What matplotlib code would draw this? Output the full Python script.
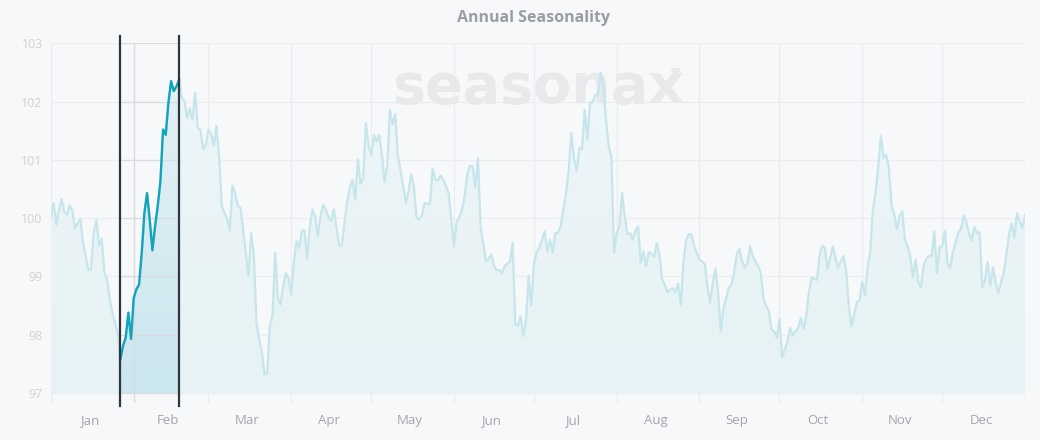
import numpy as np
import matplotlib
matplotlib.use("Agg")
import matplotlib.pyplot as plt
from matplotlib.colors import to_rgb

# daily seasonal index, one list per month (day 0 = 1 Jan, last point = 31 Dec close)
JAN = [100.00, 100.26, 99.89, 100.15, 100.33, 100.10, 100.06, 100.22, 100.12, 99.83,
       99.91, 99.99, 99.58, 99.35, 99.11, 99.13, 99.75, 99.97, 99.53, 99.65,
       99.07, 98.95, 98.61, 98.38, 98.21, 98.03, 97.58, 97.81, 97.95, 98.38, 97.93]
FEB = [98.63, 98.78, 98.86, 99.40, 100.09, 100.43, 99.97, 99.45, 99.86, 100.21,
       100.63, 101.52, 101.43, 101.98, 102.35, 102.18, 102.26, 102.37, 102.06, 102.01,
       101.72, 101.89, 101.69, 102.15, 101.55, 101.51, 101.19, 101.25]
MAR = [101.52, 101.45, 101.24, 101.58, 101.06, 100.21, 100.09, 99.99, 99.79, 100.56,
       100.43, 100.21, 100.18, 99.81, 99.41, 99.01, 99.74, 99.38, 98.21, 97.92,
       97.72, 97.32, 97.35, 98.15, 98.33, 99.41, 98.63, 98.52, 98.83, 99.06, 98.97]
APR = [98.69, 99.23, 99.61, 99.49, 99.78, 99.79, 99.30, 99.86, 100.15, 100.03,
       99.69, 100.03, 100.23, 100.15, 100.01, 99.95, 100.15, 99.83, 99.52, 99.54,
       99.92, 100.29, 100.52, 100.66, 100.32, 101.01, 100.59, 100.69, 101.63, 101.25]
MAY = [101.08, 101.43, 101.32, 101.43, 101.09, 100.63, 100.89, 101.86, 101.61, 101.78,
       101.06, 100.81, 100.55, 100.26, 100.46, 100.75, 100.55, 100.01, 99.98, 100.05,
       100.26, 100.25, 100.24, 100.85, 100.66, 100.65, 100.73, 100.66, 100.55, 100.43, 99.98]
JUN = [99.52, 99.93, 100.01, 100.15, 100.38, 100.75, 100.90, 100.89, 100.52, 101.03,
       99.86, 99.55, 99.26, 99.30, 99.38, 99.18, 99.11, 99.11, 99.05, 99.18,
       99.22, 99.26, 99.58, 98.18, 98.16, 98.32, 97.98, 98.26, 99.02, 98.50]
JUL = [99.22, 99.42, 99.49, 99.63, 99.78, 99.43, 99.63, 99.41, 99.75, 99.75,
       99.86, 100.15, 100.43, 100.83, 101.46, 101.01, 100.81, 101.21, 101.18, 101.86,
       101.35, 101.98, 101.99, 102.12, 102.12, 102.50, 102.26, 101.69, 101.23, 101.06, 99.41]
AUG = [99.75, 99.86, 100.43, 100.03, 99.72, 99.74, 99.63, 99.78, 99.86, 99.23,
       99.43, 99.18, 99.42, 99.39, 99.34, 99.57, 99.38, 98.95, 98.86, 98.73,
       98.77, 98.80, 98.73, 98.88, 98.52, 99.23, 99.62, 99.73, 99.72, 99.52, 99.40]
SEP = [99.29, 99.26, 99.21, 98.83, 98.55, 98.89, 99.13, 98.72, 98.06, 98.46,
       98.63, 98.81, 98.86, 99.06, 99.38, 99.47, 99.26, 99.15, 99.23, 99.52,
       99.35, 99.26, 99.18, 99.06, 98.63, 98.49, 98.41, 98.09, 98.06, 97.95]
OCT = [98.27, 97.61, 97.75, 97.89, 98.12, 97.99, 98.06, 98.12, 98.29, 98.09,
       98.32, 98.72, 98.98, 98.96, 98.94, 99.35, 99.53, 99.49, 99.13, 99.32,
       99.52, 99.30, 99.15, 99.26, 99.35, 99.09, 98.49, 98.15, 98.35, 98.56, 98.59]
NOV = [98.91, 98.68, 99.15, 99.41, 100.15, 100.43, 100.89, 101.41, 101.03, 101.09,
       100.86, 100.21, 100.06, 99.81, 100.03, 100.12, 99.63, 99.52, 99.35, 98.98,
       99.29, 98.90, 98.81, 99.18, 99.30, 99.35, 99.35, 99.78, 99.06, 99.51]
DEC = [99.52, 99.78, 99.21, 99.15, 99.42, 99.58, 99.75, 99.82, 100.05, 99.94,
       99.75, 99.61, 99.85, 99.74, 99.76, 98.81, 98.94, 99.25, 98.85, 99.15,
       98.90, 98.72, 98.89, 99.06, 99.36, 99.72, 99.91, 99.66, 100.09, 99.95,
       99.83, 100.05]

MONTHS = ["Jan", "Feb", "Mar", "Apr", "May", "Jun",
          "Jul", "Aug", "Sep", "Oct", "Nov", "Dec"]
MONTH_DAYS = [31, 28, 31, 30, 31, 30, 31, 31, 30, 31, 30, 31]
HILITE_START, HILITE_END = 26, 48   # day index of the marked window
YTICKS = [97, 98, 99, 100, 101, 102, 103]

BG = "#f7f8fa"
LIGHT = "#c6e6ec"
TEAL = "#12a4bb"
DARK = "#2e3640"
MARK = "#e8e9eb"

values = np.array(JAN + FEB + MAR + APR + MAY + JUN + JUL + AUG + SEP + OCT + NOV + DEC)
days = np.arange(len(values))
starts = np.concatenate([[0], np.cumsum(MONTH_DAYS)])
mids = starts[:-1] + np.array(MONTH_DAYS) / 2 - 1

Y0 = 97.0


def gradient_fill(ax, x, y, top, bot, z):
    poly = ax.fill_between(x, y, Y0, facecolor="none", edgecolor="none")
    n = 256
    img = np.zeros((n, 1, 4))
    ct, cb = np.array(to_rgb(top)), np.array(to_rgb(bot))
    t = np.linspace(0, 1, n)[:, None]
    img[:, 0, :3] = ct * (1 - t) + cb * t
    img[:, 0, 3] = 1.0
    im = ax.imshow(img, aspect="auto", extent=[x[0], x[-1], Y0, 103],
                   origin="upper", zorder=z, interpolation="bilinear")
    im.set_clip_path(poly.get_paths()[0], transform=ax.transData)


fig = plt.figure(figsize=(10.4, 4.4), dpi=100, facecolor=BG)
ax = fig.add_axes([51 / 1040, 37 / 440, 974 / 1040, 359.7 / 440])
ax.set_facecolor(BG)
for s in ax.spines.values():
    s.set_visible(False)

ax.set_xlim(0, 365)
ax.set_ylim(96.83, 103)

# grid
for yv in YTICKS:
    ax.plot([0, 365], [yv, yv], color="#ebedf0", lw=0.9, zorder=1)
for xv in starts:
    ax.plot([xv, xv], [96.83, 103], color="#eaecef", lw=0.9, zorder=1)

# whole-year area + line
gradient_fill(ax, days, values, "#eef6f8", "#e6f2f5", 2)

# watermark, under the line
ax.text(0.5, 0.877, "seasonax", transform=ax.transAxes, ha="center", va="center",
        fontsize=40, fontweight="bold", color=MARK, family="DejaVu Sans", zorder=3.8)
ax.scatter([0.641], [0.917], marker="v", s=60, color=MARK, transform=ax.transAxes,
           zorder=3.8, linewidths=0)

ax.plot(days, values, color=LIGHT, lw=1.6, zorder=4)

# highlighted window
hx = days[HILITE_START:HILITE_END + 1]
hy = values[HILITE_START:HILITE_END + 1]
gradient_fill(ax, hx, hy, "#e6f3f6", "#cbe6ee", 3)
for yv in YTICKS:
    ax.plot([HILITE_START, HILITE_END], [yv, yv], color="#d9dcdf", lw=0.9, zorder=3.5)
ax.plot([starts[1]] * 2, [96.83, 103], color="#d9dcdf", lw=0.9, zorder=3.5)
ax.plot(hx, hy, color=TEAL, lw=1.7, zorder=5)
for xv in (HILITE_START, HILITE_END):
    ax.plot([xv, xv], [96.78, 103.12], color=DARK, lw=1.6, zorder=6, clip_on=False)

# ticks
ax.set_yticks(YTICKS)
ax.set_yticklabels([str(v) for v in YTICKS])
ax.tick_params(axis="y", length=0, pad=6, labelsize=9, labelcolor="#cfd1d4")
ax.set_xticks(mids)
ax.set_xticklabels(MONTHS)
ax.tick_params(axis="x", length=0, pad=8, labelsize=9.5, labelcolor="#a3a6aa")
for lab in ax.get_xticklabels() + ax.get_yticklabels():
    lab.set_family("Open Sans")

fig.text(534 / 1040, 1 - 18 / 440, "Annual Seasonality", ha="center", va="center",
         fontsize=11.5, fontweight="bold", color="#9a9da1", family="Open Sans")

fig.savefig("out.png", dpi=100, facecolor=BG)
